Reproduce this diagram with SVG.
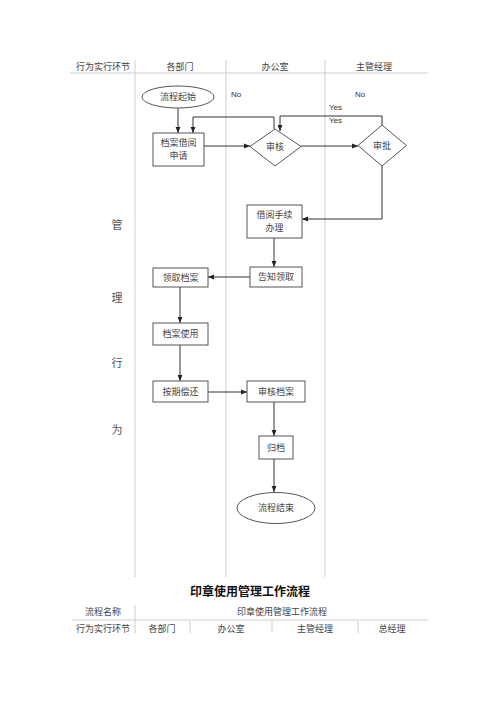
<svg xmlns="http://www.w3.org/2000/svg" width="500" height="707" viewBox="0 0 500 707">
<style>
.bg{fill:#fff}
.grid{stroke:#cfcfcf;stroke-width:1;fill:none}
.hd{font-family:"Liberation Serif","Noto Sans CJK SC",serif;font-size:9px;fill:#444;text-anchor:middle}
.side{font-family:"Liberation Serif","Noto Sans CJK SC",serif;font-size:11px;fill:#555;text-anchor:middle}
.node{fill:#fff;stroke:#555;stroke-width:1}
.nt{font-family:"Liberation Serif","Noto Sans CJK SC",serif;font-size:9px;fill:#444;text-anchor:middle}
.lbl{font-family:"Liberation Sans","DejaVu Sans",sans-serif;font-size:8px;fill:#333}
.con{stroke:#333;stroke-width:1;fill:none}
.title{font-family:"Liberation Serif","Noto Sans CJK SC",serif;font-size:12px;font-weight:bold;fill:#111;text-anchor:middle}
</style>
<defs>
<marker id="arr" viewBox="0 0 10 10" refX="10" refY="5" markerWidth="6" markerHeight="6" orient="auto" markerUnits="userSpaceOnUse">
<path d="M0,1 L10,5 L0,9 z" fill="#222"/>
</marker>
</defs>
<rect class="bg" x="0" y="0" width="500" height="707"/>
<g id="table-top">
<line class="grid" x1="70" y1="73" x2="428" y2="73"/>
<line class="grid" x1="135" y1="60" x2="135" y2="577"/>
<line class="grid" x1="226" y1="60" x2="226" y2="577"/>
<line class="grid" x1="325" y1="60" x2="325" y2="577"/>
<text class="hd" x="103" y="70">行为实行环节</text>
<text class="hd" x="180" y="70">各部门</text>
<text class="hd" x="275" y="70">办公室</text>
<text class="hd" x="374" y="70">主管经理</text>
<text class="side" x="117" y="229">管</text>
<text class="side" x="117" y="302">理</text>
<text class="side" x="117" y="367">行</text>
<text class="side" x="117" y="434">为</text>
</g>
<g id="connectors">
<line class="con" x1="178" y1="108" x2="178" y2="133" marker-end="url(#arr)"/>
<polyline class="con" points="274,129 274,117 193,117 193,133" marker-end="url(#arr)"/>
<polyline class="con" points="382,125 382,116 280,116 280,131" marker-end="url(#arr)"/>
<line class="con" x1="204" y1="146" x2="250" y2="146" marker-end="url(#arr)"/>
<line class="con" x1="301" y1="146" x2="358" y2="146" marker-end="url(#arr)"/>
<polyline class="con" points="382,166 382,219 302,219" marker-end="url(#arr)"/>
<line class="con" x1="274" y1="238" x2="274" y2="267" marker-end="url(#arr)"/>
<line class="con" x1="250" y1="277" x2="208" y2="277" marker-end="url(#arr)"/>
<line class="con" x1="180" y1="287" x2="180" y2="323" marker-end="url(#arr)"/>
<line class="con" x1="180" y1="345" x2="180" y2="381" marker-end="url(#arr)"/>
<line class="con" x1="208" y1="392" x2="247" y2="392" marker-end="url(#arr)"/>
<line class="con" x1="274" y1="402" x2="274" y2="436" marker-end="url(#arr)"/>
<line class="con" x1="274" y1="459" x2="274" y2="492" marker-end="url(#arr)"/>
<text class="lbl" x="231" y="97">No</text>
<text class="lbl" x="355" y="97">No</text>
<text class="lbl" x="329" y="110">Yes</text>
<text class="lbl" x="329" y="123">Yes</text>
</g>
<g id="start">
<ellipse class="node" cx="178" cy="97" rx="36" ry="11"/>
<text class="nt" x="178" y="100">流程起始</text>
</g>
<g id="apply">
<rect class="node" x="153" y="133" width="51" height="33"/>
<text class="nt" x="178.5" y="146">档案借阅</text>
<text class="nt" x="178.5" y="159">申请</text>
</g>
<g id="review">
<polygon class="node" points="275,129 301,146.5 275,166 250,146.5"/>
<text class="nt" x="275" y="150">审核</text>
</g>
<g id="approve">
<polygon class="node" points="382,125 406.5,145.5 382,166 358,145.5"/>
<text class="nt" x="382" y="149">审批</text>
</g>
<g id="borrow">
<rect class="node" x="247" y="205" width="55" height="33"/>
<text class="nt" x="274.5" y="218">借阅手续</text>
<text class="nt" x="274.5" y="231">办理</text>
</g>
<g id="notify">
<rect class="node" x="250" y="267" width="52" height="20"/>
<text class="nt" x="276" y="280">告知领取</text>
</g>
<g id="receive">
<rect class="node" x="153" y="268" width="55" height="19"/>
<text class="nt" x="180.5" y="280.5">领取档案</text>
</g>
<g id="use">
<rect class="node" x="153" y="323" width="55" height="22"/>
<text class="nt" x="180.5" y="337">档案使用</text>
</g>
<g id="return">
<rect class="node" x="153" y="381" width="55" height="21"/>
<text class="nt" x="180.5" y="394.5">按期偿还</text>
</g>
<g id="check">
<rect class="node" x="247" y="381" width="58" height="21"/>
<text class="nt" x="276" y="394.5">审核档案</text>
</g>
<g id="archive">
<rect class="node" x="259" y="436" width="34" height="23"/>
<text class="nt" x="276" y="450.5">归档</text>
</g>
<g id="end">
<ellipse class="node" cx="276" cy="508" rx="39" ry="15.5"/>
<text class="nt" x="276" y="511">流程结束</text>
</g>
<text class="title" x="250" y="596">印章使用管理工作流程</text>
<g id="table-bottom">
<line class="grid" x1="72" y1="620" x2="428" y2="620"/>
<line class="grid" x1="135" y1="605" x2="135" y2="633"/>
<line class="grid" x1="190" y1="621" x2="190" y2="633"/>
<line class="grid" x1="272" y1="621" x2="272" y2="633"/>
<line class="grid" x1="358" y1="621" x2="358" y2="633"/>
<text class="hd" x="103" y="615">流程名称</text>
<text class="hd" x="282" y="615">印章使用管理工作流程</text>
<text class="hd" x="103" y="632">行为实行环节</text>
<text class="hd" x="162" y="632">各部门</text>
<text class="hd" x="231" y="632">办公室</text>
<text class="hd" x="315" y="632">主管经理</text>
<text class="hd" x="392" y="632">总经理</text>
</g>
</svg>
